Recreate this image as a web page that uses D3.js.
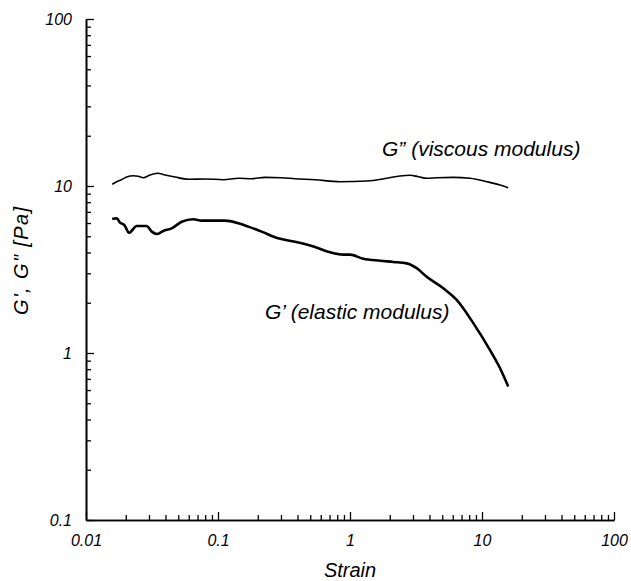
<!DOCTYPE html>
<html>
<head>
<meta charset="utf-8">
<script src="https://cdn.jsdelivr.net/npm/d3@7"></script>
<style>
    body { margin: 0; background: #fff; }
    text { font-family: "Liberation Sans", Arial, sans-serif; font-style: italic; fill: #000; }
</style>
</head>
<body>
<div id="chart"></div>
<script>
// strain sweep
const gppStrain = [0.0158, 0.0171, 0.0184, 0.0203, 0.0228, 0.0249, 0.0272, 0.0305, 0.0349, 0.0397, 0.0473,
    0.0596, 0.0797, 0.110, 0.143, 0.180, 0.227, 0.304, 0.383, 0.543, 0.840, 1.34, 1.90, 2.39, 2.85,
    3.29, 3.81, 4.54, 6.06, 8.11, 10.9, 13.7, 15.8];
const gppValues = [10.24, 10.61, 10.86, 11.32, 11.53, 11.43, 11.21, 11.64, 11.91, 11.64, 11.32,
    10.97, 11.02, 10.91, 11.12, 11.06, 11.27, 11.21, 11.06, 10.91, 10.61, 10.71, 11.12, 11.48, 11.59,
    11.37, 11.12, 11.21, 11.27, 11.12, 10.61, 10.14, 9.77];

const gpStrain = [0.0158, 0.0171, 0.0181, 0.0195, 0.0212, 0.0242, 0.0288, 0.0315, 0.0343, 0.0385, 0.0446,
    0.0531, 0.0650, 0.0752, 0.0896, 0.113, 0.143, 0.170, 0.214, 0.286, 0.383, 0.536, 0.706, 0.890, 1.0,
    1.26, 1.69, 2.13, 2.69, 3.20, 3.81, 5.09, 6.43, 8.59, 11.5, 13.7, 15.8];
const gpValues = [6.35, 6.41, 6.03, 5.84, 5.25, 5.76, 5.76, 5.33, 5.16, 5.38, 5.58,
    6.11, 6.32, 6.20, 6.20, 6.20, 5.98, 5.71, 5.33, 4.86, 4.64, 4.33, 4.01, 3.88, 3.88,
    3.67, 3.57, 3.51, 3.44, 3.22, 2.86, 2.44, 2.08, 1.51, 1.04, 0.81, 0.63];

const strainTicks = [0.01, 0.1, 1, 10, 100];
const modulusTicks = [0.1, 1, 10, 100];

const width = 631, height = 581;
const svg = d3.select('#chart').append('svg')
    .attr('width', width)
    .attr('height', height);

const x = d3.scaleLog().domain([0.01, 100]).range([86, 614]);
const y = d3.scaleLog().domain([0.1, 100]).range([520, 19]);

const fmt = d => String(d);

// minor ticks (2..9 of every decade)
const xMinor = x.ticks().filter(t => !strainTicks.some(m => Math.abs(m - t) < 1e-9));
const yMinor = y.ticks().filter(t => !modulusTicks.some(m => Math.abs(m - t) < 1e-9));

function styleAxis(g) {
    g.select('.domain').attr('stroke', '#000').attr('stroke-width', 1.6);
    g.selectAll('.tick line').attr('stroke', '#000').attr('stroke-width', 1.3);
    g.selectAll('.tick text').style('font-size', '16px').attr('fill', '#000');
}

svg.append('g')
    .attr('transform', `translate(0,${y(0.1)})`)
    .call(d3.axisBottom(x).tickValues(xMinor).tickSize(-5).tickSizeOuter(0).tickFormat(''))
    .call(styleAxis);

svg.append('g')
    .attr('transform', `translate(0,${y(0.1)})`)
    .call(d3.axisBottom(x).tickValues(strainTicks).tickSize(-8).tickSizeOuter(0).tickPadding(15).tickFormat(fmt))
    .call(styleAxis);

svg.append('g')
    .attr('transform', `translate(${x(0.01)},0)`)
    .call(d3.axisLeft(y).tickValues(yMinor).tickSize(-5).tickSizeOuter(0).tickFormat(''))
    .call(styleAxis);

svg.append('g')
    .attr('transform', `translate(${x(0.01)},0)`)
    .call(d3.axisLeft(y).tickValues(modulusTicks).tickSize(-8).tickSizeOuter(0).tickPadding(14).tickFormat(fmt))
    .call(styleAxis);

const line = d3.line()
    .x(d => x(d[0]))
    .y(d => y(d[1]))
    .curve(d3.curveMonotoneX);

svg.append('path')
    .datum(d3.zip(gppStrain, gppValues))
    .attr('fill', 'none')
    .attr('stroke', '#000')
    .attr('stroke-width', 1.6)
    .attr('d', line);

svg.append('path')
    .datum(d3.zip(gpStrain, gpValues))
    .attr('fill', 'none')
    .attr('stroke', '#000')
    .attr('stroke-width', 2.6)
    .attr('d', line);

// labels
svg.append('text')
    .attr('x', 350)
    .attr('y', 577)
    .attr('text-anchor', 'middle')
    .style('font-size', '20px')
    .text('Strain');

svg.append('text')
    .attr('transform', 'translate(28,261) rotate(-90)')
    .attr('text-anchor', 'middle')
    .attr('textLength', 108)
    .attr('lengthAdjust', 'spacing')
    .style('font-size', '20px')
    .text('G\', G" [Pa]');

svg.append('text')
    .attr('x', 382)
    .attr('y', 156)
    .style('font-size', '21px')
    .text('G\u201D (viscous modulus)');

svg.append('text')
    .attr('x', 265)
    .attr('y', 319)
    .style('font-size', '21px')
    .text('G\u2019 (elastic modulus)');
</script>
</body>
</html>
